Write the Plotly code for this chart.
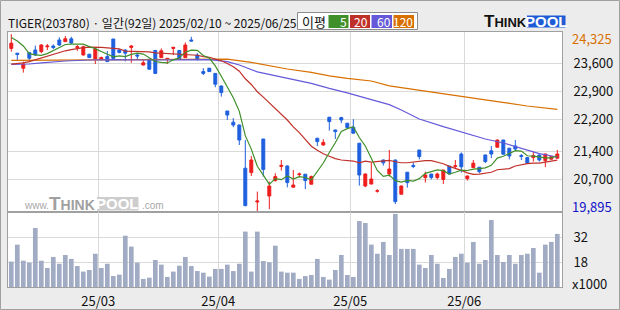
import pandas as pd
import plotly.graph_objects as go

# ---------------- data ----------------
ticker = "TIGER(203780)"
start_date = "2025-02-10"
end_date = "2025-06-25"
holidays = ["2025-03-03", "2025-05-01", "2025-05-05", "2025-05-06", "2025-06-03", "2025-06-06"]

opens = [23970, 23850, 23475, 23865, 23930, 23890, 24010, 24030, 24180, 24140,
         24210, 23990, 23805, 23825, 23700, 23700, 23765, 24205, 23930, 23930,
         23995, 23805, 23555, 23700, 23920, 23740, 23700, 23970, 23920, 23740,
         24180, 23805, 23390, 23475, 23345, 23030, 22405, 22125, 22055, 20975,
         20865, 20130, 21705, 20280, 20665, 21020, 21030, 20500, 20815, 20825,
         20575, 21725, 21555, 22250, 21930, 22240, 22100, 22000, 21600, 20530,
         20580, 20400, 21180, 20830, 21180, 20325, 20875, 21045, 21430, 20740,
         20830, 20740, 20695, 21030, 21020, 21330, 20715, 20990, 21000, 21305,
         21410, 21500, 21680, 21475, 21530, 21290, 21240, 21240, 21305, 21165,
         21200, 21225]
highs = [24325, 23850, 23640, 23865, 24040, 24075, 24080, 24070, 24245, 24280,
         24260, 24055, 24040, 23825, 23970, 23765, 23905, 24205, 23955, 23945,
         24055, 23850, 23680, 23705, 23920, 23970, 23730, 24005, 23930, 24120,
         24260, 23850, 23475, 23480, 23355, 23045, 22405, 22225, 22065, 21680,
         21280, 20390, 21705, 20640, 20850, 21180, 21045, 20930, 20865, 20830,
         20790, 21730, 21700, 22255, 21940, 22260, 22105, 22200, 21605, 20845,
         21110, 20450, 21190, 21430, 21190, 20545, 20880, 21120, 21430, 20890,
         20830, 20865, 20930, 21030, 21180, 21370, 20790, 21180, 21005, 21315,
         21530, 21690, 21680, 21480, 21680, 21330, 21245, 21390, 21320, 21340,
         21280, 21430]
lows = [23890, 23680, 23365, 23630, 23780, 23850, 23930, 23955, 24030, 24140,
        24080, 23905, 23795, 23730, 23580, 23665, 23630, 23720, 23845, 23645,
        23610, 23680, 23545, 23445, 23340, 23740, 23580, 23805, 23695, 23740,
        24150, 23665, 23305, 23380, 23000, 22765, 22180, 22000, 21555, 20020,
        20780, 19895, 20765, 19950, 20640, 20915, 20495, 20495, 20750, 20450,
        20570, 21530, 21540, 21915, 21705, 22100, 21980, 21845, 20540, 20500,
        20570, 20365, 21040, 20765, 20080, 20320, 20490, 20975, 21195, 20615,
        20695, 20695, 20580, 20820, 20950, 20865, 20665, 20990, 20850, 21100,
        21225, 21495, 21320, 21195, 21430, 21180, 21095, 21140, 21140, 21000,
        21195, 21220]
closes = [24100, 23820, 23580, 23725, 23805, 24055, 24030, 23990, 24055, 24210,
          24105, 24010, 24010, 23740, 23955, 23740, 23640, 23720, 23870, 23850,
          24030, 23780, 23610, 23450, 23345, 23910, 23720, 23995, 23700, 24055,
          24155, 23700, 23345, 23390, 23075, 22865, 22305, 22055, 21680, 20040,
          21180, 20155, 20945, 20530, 20765, 21045, 20615, 20555, 20830, 20665,
          20765, 21640, 21620, 22140, 21890, 22180, 21990, 21850, 20805, 20830,
          20705, 20410, 21110, 20955, 20140, 20530, 20615, 21020, 21265, 20805,
          20740, 20830, 20930, 20830, 21035, 21010, 20780, 21100, 20890, 21140,
          21330, 21680, 21325, 21280, 21455, 21270, 21100, 21290, 21180, 21330,
          21265, 21330]
volumes_k = [18.4, 27.9, 18.9, 17.8, 37.2, 18.9, 14.8, 21.0, 17.2, 22.1,
             19.9, 15.9, 12.8, 13.7, 22.8, 14.8, 17.2, 10.3, 11.1, 32.9,
             26.8, 17.8, 8.7, 9.4, 19.3, 16.7, 9.8, 12.8, 16.1, 21.0,
             15.9, 13.1, 12.2, 10.0, 14.3, 14.3, 16.7, 13.1, 17.2, 35.2,
             12.8, 35.2, 18.7, 18.0, 27.3, 12.8, 12.2, 12.2, 8.7, 10.3,
             10.9, 19.9, 9.8, 8.3, 13.7, 22.1, 10.9, 9.8, 41.1, 40.0,
             27.9, 22.8, 29.4, 22.1, 45.1, 25.5, 25.5, 25.5, 16.7, 14.8,
             22.1, 17.2, 9.2, 14.3, 21.0, 22.8, 17.8, 29.4, 17.2, 19.3,
             41.7, 22.1, 18.2, 22.1, 17.2, 22.1, 22.8, 26.0, 12.2, 27.9,
             29.4, 33.9]

ma5_head = [24240, 24155, 24030, 23840]
ma20_head = [23575, 23590, 23610, 23640, 23685, 23730, 23780, 23815, 23865, 23910,
             23940, 23970, 23990, 24000, 24005, 23995, 23985, 23975, 23960]
ma60_idx = [0, 3, 5, 9, 13, 17, 22, 30, 33, 36, 38, 41, 45, 50, 53, 56, 60, 63, 65,
            68, 72, 76, 79, 82, 85, 88, 91]
ma60_val = [23570, 23580, 23610, 23655, 23680, 23690, 23680, 23690, 23690, 23640,
            23555, 23385, 23255, 23095, 22970, 22860, 22690, 22565, 22430,
            22205, 22015, 21830, 21705, 21605, 21465, 21340, 21255]
ma120_idx = [0, 8, 15, 22, 30, 36, 40, 43, 46, 50, 53, 56, 60, 63, 70, 75, 81, 86, 91]
ma120_val = [23670, 23680, 23690, 23700, 23700, 23700, 23620, 23535, 23455, 23370,
             23285, 23220, 23155, 23035, 22885, 22785, 22640, 22530, 22445]

price_ticks = [23600, 22900, 22200, 21400, 20700]
volume_ticks = [18, 32]
ma_periods = [5, 20, 60, 120]

# ---------------- derived ----------------
dates = [d for d in pd.bdate_range(start_date, end_date) if d.strftime("%Y-%m-%d") not in holidays]
n = len(dates)
x = list(range(n))
close_s = pd.Series(closes, dtype=float)
ma5 = close_s.rolling(5).mean().tolist()
ma5[:len(ma5_head)] = ma5_head
ma20 = close_s.rolling(20).mean().tolist()
ma20[:len(ma20_head)] = ma20_head

month_vals, month_text = [], []
for i in range(1, n):
    if dates[i].month != dates[i - 1].month:
        month_vals.append(i - 0.5)
        month_text.append(dates[i].strftime("%y/%m"))

# ---------------- style ----------------
W, H = 620, 310
ML, MR, MT, MB = 8, 58, 32, 23
PW, PH = W - ML - MR, H - MT - MB
VOL_H = 75
split = VOL_H / PH

def X(px):
    return (px - ML) / PW

def Y(py):
    return (H - MB - py) / PH

FONT = "Noto Sans CJK KR, sans-serif"
LOGO = "Liberation Sans, Arial, sans-serif"
UP, DOWN = "#EE1D1D", "#1E60DE"
MA_COLORS = ["#3F8F2A", "#C0302A", "#6659D9", "#D87000"]
GRID = "#D9D9D9"
BORDER = "#A0A0A0"

fig = go.Figure()
fig.add_trace(go.Candlestick(
    x=x, open=opens, high=highs, low=lows, close=closes,
    increasing=dict(line=dict(color=UP, width=1), fillcolor=UP),
    decreasing=dict(line=dict(color=DOWN, width=1), fillcolor=DOWN),
    whiskerwidth=0, xaxis="x", yaxis="y", showlegend=False, hoverinfo="skip"))

fig.add_trace(go.Scatter(x=ma120_idx, y=ma120_val, mode="lines",
                         line=dict(color=MA_COLORS[3], width=1.2), xaxis="x", yaxis="y"))
fig.add_trace(go.Scatter(x=ma60_idx, y=ma60_val, mode="lines",
                         line=dict(color=MA_COLORS[2], width=1.2), xaxis="x", yaxis="y"))
fig.add_trace(go.Scatter(x=x, y=ma20, mode="lines",
                         line=dict(color=MA_COLORS[1], width=1.2), xaxis="x", yaxis="y"))
fig.add_trace(go.Scatter(x=x, y=ma5, mode="lines",
                         line=dict(color=MA_COLORS[0], width=1.2), xaxis="x", yaxis="y"))

fig.add_trace(go.Bar(x=x, y=volumes_k, width=0.78, marker=dict(color="#A2ABC4", line=dict(width=0)),
                     xaxis="x2", yaxis="y2", showlegend=False, hoverinfo="skip"))

xr = [-0.55, n - 1 + 0.78]
common_x = dict(range=xr, tickvals=month_vals, showgrid=True, gridcolor=GRID, gridwidth=1,
                zeroline=False, showline=True, linecolor=BORDER, linewidth=1, mirror=True, ticks="")
fig.update_layout(
    width=W, height=H, margin=dict(l=ML, r=MR, t=MT, b=MB, autoexpand=False),
    paper_bgcolor="#ECECEC", plot_bgcolor="#FFFFFF", showlegend=False,
    font=dict(family=FONT, size=13, color="#111111"),
    xaxis=dict(common_x, anchor="y", domain=[0, 1], showticklabels=False,
               rangeslider=dict(visible=False)),
    xaxis2=dict(common_x, anchor="y2", domain=[0, 1], matches="x", ticktext=month_text,
                showticklabels=True, ticklabelstandoff=2, tickfont=dict(family=FONT, size=13)),
    yaxis=dict(domain=[split, 1], range=[19880, 24380], side="right", tickvals=price_ticks,
               ticktext=[f"{v:,}" for v in price_ticks], showgrid=True, gridcolor=GRID,
               zeroline=False, showline=True, linecolor=BORDER, mirror=True, ticks="",
               ticklabelstandoff=8, tickfont=dict(family=FONT, size=13)),
    yaxis2=dict(domain=[0, split], range=[4.17, 46.17], side="right", tickvals=volume_ticks,
                ticktext=[str(v) for v in volume_ticks], showgrid=True, gridcolor=GRID,
                zeroline=False, showline=True, linecolor=BORDER, mirror=True, ticks="",
                ticklabelstandoff=8, tickfont=dict(family=FONT, size=13)),
)

shapes = []
annots = []
# outer border
shapes.append(dict(type="rect", xref="paper", yref="paper", x0=X(0.5), x1=X(W - 0.5),
                   y0=Y(H - 0.5), y1=Y(0.5), line=dict(color=BORDER, width=1), layer="below"))

# header
annots.append(dict(xref="paper", yref="paper", x=X(6), y=Y(22.5), xanchor="left", yanchor="middle",
                   text=f"{ticker} · 일간({n}일) {dates[0].strftime('%Y/%m/%d')} ~ {dates[-1].strftime('%Y/%m/%d')}",
                   showarrow=False, font=dict(family=FONT, size=12, color="#111111")))

# MA legend box
shapes.append(dict(type="rect", xref="paper", yref="paper", x0=X(297.5), x1=X(417.5),
                   y0=Y(29.5), y1=Y(12.5), fillcolor="#FFFFFF", line=dict(color="#8C8C8C", width=1)))
annots.append(dict(xref="paper", yref="paper", x=X(300), y=Y(21.5), xanchor="left", yanchor="middle",
                   text="이평", showarrow=False, font=dict(family=FONT, size=13, color="#111111")))
box_x = [(328.5, 348.5), (350, 370), (371.5, 392), (393.5, 414)]
for (a, b), p, c in zip(box_x, ma_periods, MA_COLORS):
    shapes.append(dict(type="rect", xref="paper", yref="paper", x0=X(a), x1=X(b),
                       y0=Y(28), y1=Y(15), fillcolor=c, line=dict(width=0)))
    annots.append(dict(xref="paper", yref="paper", x=X(b - 0.5), y=Y(21.5), xanchor="right",
                       yanchor="middle", text=str(p), showarrow=False, borderpad=0,
                       font=dict(family=FONT, size=12, color="#FFFFFF")))

# logo top-right
annots.append(dict(xref="paper", yref="paper", x=X(482), y=Y(21.5), xanchor="left", yanchor="middle",
                   text="<b><span style='font-size:17px'>T</span>HINK</b>", showarrow=False,
                   font=dict(family=LOGO, size=13, color="#111111")))
shapes.append(dict(type="rect", xref="paper", yref="paper", x0=X(527), x1=X(565.5),
                   y0=Y(27.5), y1=Y(15.5), fillcolor="#1E5BD6", line=dict(width=0)))
annots.append(dict(xref="paper", yref="paper", x=X(546), y=Y(21.5), xanchor="center", yanchor="middle",
                   text="<b>POOL</b>", showarrow=False,
                   font=dict(family=LOGO, size=15, color="#FFFFFF")))

# watermark
annots.append(dict(xref="paper", yref="paper", x=X(22), y=Y(205.5), xanchor="left", yanchor="middle",
                   text="www.", showarrow=False, font=dict(family=LOGO, size=10, color="#A8A8A8")))
annots.append(dict(xref="paper", yref="paper", x=X(47), y=Y(203.5), xanchor="left", yanchor="middle",
                   text="<b><span style='font-size:19px'>T</span>HINK</b>", showarrow=False,
                   font=dict(family=LOGO, size=14, color="#A0A0A0")))
shapes.append(dict(type="rect", xref="paper", yref="paper", x0=X(97), x1=X(138.5),
                   y0=Y(210.5), y1=Y(197), fillcolor="#CDCDCD", line=dict(width=0)))
annots.append(dict(xref="paper", yref="paper", x=X(117.7), y=Y(203.7), xanchor="center", yanchor="middle",
                   text="<b>POOL</b>", showarrow=False, font=dict(family=LOGO, size=15, color="#FFFFFF")))
annots.append(dict(xref="paper", yref="paper", x=X(139.5), y=Y(205.5), xanchor="left", yanchor="middle",
                   text=".com", showarrow=False, font=dict(family=LOGO, size=10, color="#A8A8A8")))

# period high / low labels
hi, lo = max(highs), min(lows)
annots.append(dict(xref="paper", yref="y", x=1, y=hi, xanchor="left", yanchor="middle", xshift=8,
                   yshift=-4, text=f"{hi:,}", showarrow=False,
                   font=dict(family=FONT, size=13, color="#D87000")))
annots.append(dict(xref="paper", yref="y", x=1, y=lo, xanchor="left", yanchor="middle", xshift=8,
                   yshift=5, text=f"{lo:,}", showarrow=False,
                   font=dict(family=FONT, size=13, color="#1414C8")))
annots.append(dict(xref="paper", yref="paper", x=1, y=Y(283), xanchor="left", yanchor="middle", xshift=8,
                   text="x1000", showarrow=False, font=dict(family=FONT, size=13, color="#111111")))

fig.update_layout(shapes=shapes, annotations=annots)
fig.write_html("out.html")
